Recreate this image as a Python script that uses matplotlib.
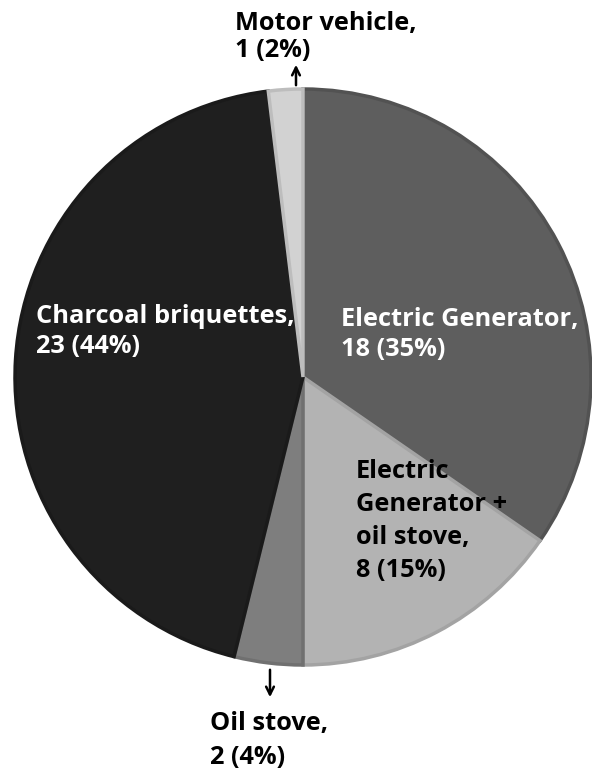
import matplotlib.pyplot as plt

# slices, clockwise from 12 o'clock
labels = ['Electric Generator,\n18 (35%)',
          'Electric\nGenerator +\noil stove,\n8 (15%)',
          'Oil stove,\n2 (4%)',
          'Charcoal briquettes,\n23 (44%)',
          'Motor vehicle,\n1 (2%)']
counts = [18, 8, 2, 23, 1]
colors = ['#5e5e5e', '#b3b3b3', '#7e7e7e', '#1f1f1f', '#d2d2d2']
edges = ['#525252', '#a3a3a3', '#707070', '#1a1a1a', '#bdbdbd']

W, H = 592, 774
fig = plt.figure(figsize=(W / 100, H / 100), dpi=100)
ax = fig.add_axes([0, 0, 1, 1])

cx, cy, r = 303, H - 377, 288
wedges, _ = ax.pie(counts, colors=colors, startangle=90, counterclock=False,
                   center=(cx, cy), radius=r, frame=True,
                   wedgeprops=dict(linewidth=2.5))
for w, ec in zip(wedges, edges):
    w.set_edgecolor(ec)
ax.set_xlim(0, W)
ax.set_ylim(0, H)
ax.set_aspect('auto')
ax.axis('off')

font = dict(family='Open Sans', fontweight='bold', fontsize=18.3,
            ha='left', va='top')

# label positions in pixels from top-left, plus line spacing
pos = [(341, 307, 'white', 1.25), (356, 459, 'black', 1.42),
       (210, 711, 'black', 1.45), (36, 304, 'white', 1.25),
       (235, 11, 'black', 1.12)]
for lab, (x, y, c, ls) in zip(labels, pos):
    ax.text(x, H - y, lab, color=c, linespacing=ls, **font)

arrow = dict(arrowstyle='->', color='black', lw=1.8, mutation_scale=14)
ax.annotate('', xy=(296, H - 62), xytext=(296, H - 88), arrowprops=arrow)
ax.annotate('', xy=(270, H - 700), xytext=(270, H - 667), arrowprops=arrow)

fig.savefig('out.png', dpi=100)
